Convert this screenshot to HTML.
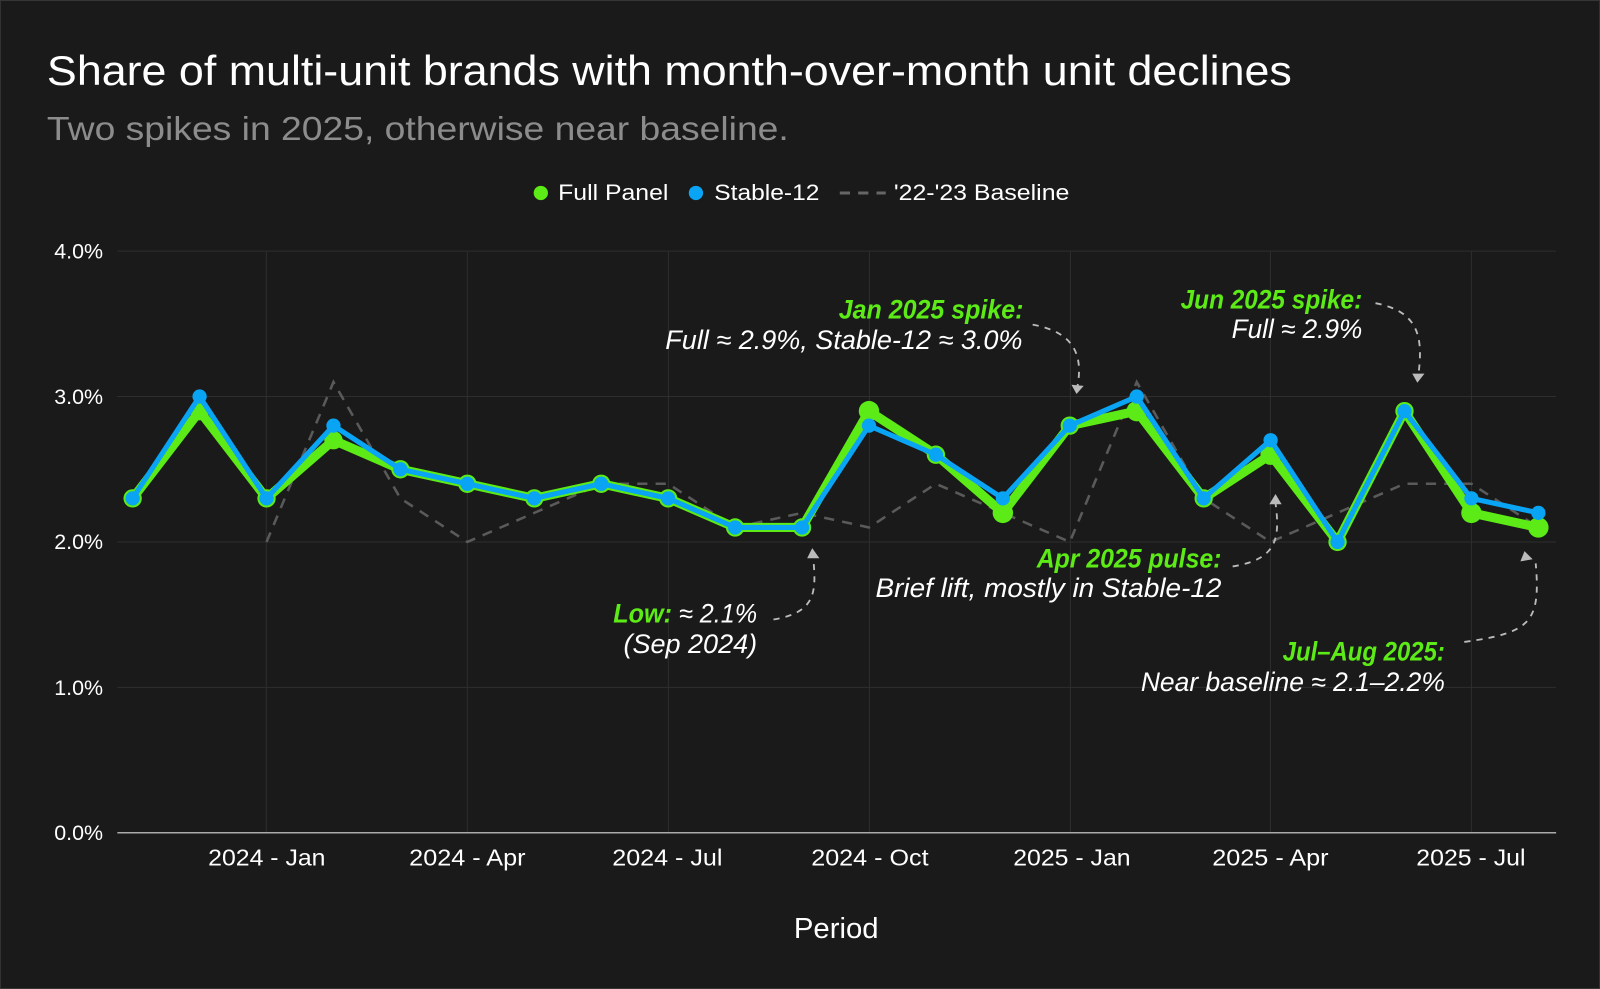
<!DOCTYPE html>
<html><head><meta charset="utf-8"><style>
html,body{margin:0;padding:0;background:#1a1a1a;}
svg{display:block;}
text{font-family:"Liberation Sans",sans-serif;}
.h{font-family:"DejaVu Sans Condensed","DejaVu Sans",sans-serif;font-style:italic;}
</style></head><body>
<svg width="1600" height="989" viewBox="0 0 1568 969" xmlns="http://www.w3.org/2000/svg">
<rect x="0" y="0" width="1568" height="969" fill="#1a1a1a" stroke="#3a3a3a" stroke-width="1.5"/>
<text x="46" y="83" font-size="41" fill="#ffffff" textLength="1220" lengthAdjust="spacingAndGlyphs">Share of multi-unit brands with month-over-month unit declines</text>
<text x="46" y="137" font-size="33" fill="#8c8c8c" textLength="727" lengthAdjust="spacingAndGlyphs">Two spikes in 2025, otherwise near baseline.</text>
<circle cx="530" cy="189" r="7" fill="#5ceb16"/>
<text x="547" y="196" font-size="22" fill="#fff" textLength="108" lengthAdjust="spacingAndGlyphs">Full Panel</text>
<circle cx="682" cy="189" r="7" fill="#0aa4f4"/>
<text x="700" y="196" font-size="22" fill="#fff" textLength="103" lengthAdjust="spacingAndGlyphs">Stable-12</text>
<line x1="823" y1="189" x2="868" y2="189" stroke="#666" stroke-width="3" stroke-dasharray="10,8"/>
<text x="876" y="196" font-size="22" fill="#fff" textLength="172" lengthAdjust="spacingAndGlyphs">'22-'23 Baseline</text>
<g stroke="#2e2e2e" stroke-width="1">
<line x1="115" y1="246" x2="1525" y2="246"/><line x1="115" y1="388.5" x2="1525" y2="388.5"/>
<line x1="115" y1="531" x2="1525" y2="531"/><line x1="115" y1="673.5" x2="1525" y2="673.5"/>
<line x1="261" y1="246" x2="261" y2="816"/><line x1="458" y1="246" x2="458" y2="816"/>
<line x1="655" y1="246" x2="655" y2="816"/><line x1="852" y1="246" x2="852" y2="816"/>
<line x1="1049" y1="246" x2="1049" y2="816"/><line x1="1245" y1="246" x2="1245" y2="816"/>
<line x1="1442" y1="246" x2="1442" y2="816"/>
</g>
<line x1="115" y1="816" x2="1525" y2="816" stroke="#aaa" stroke-width="1.5"/>
<g font-size="21" fill="#fff" text-anchor="end">
<text x="101" y="253">4.0%</text><text x="101" y="396">3.0%</text><text x="101" y="538">2.0%</text>
<text x="101" y="681">1.0%</text><text x="101" y="823">0.0%</text>
</g>
<g font-size="23" fill="#fff">
<text x="204" y="848" textLength="115" lengthAdjust="spacingAndGlyphs">2024 - Jan</text>
<text x="401" y="848" textLength="114" lengthAdjust="spacingAndGlyphs">2024 - Apr</text>
<text x="600" y="848" textLength="108" lengthAdjust="spacingAndGlyphs">2024 - Jul</text>
<text x="795" y="848" textLength="115" lengthAdjust="spacingAndGlyphs">2024 - Oct</text>
<text x="993" y="848" textLength="115" lengthAdjust="spacingAndGlyphs">2025 - Jan</text>
<text x="1188" y="848" textLength="114" lengthAdjust="spacingAndGlyphs">2025 - Apr</text>
<text x="1388" y="848" textLength="107" lengthAdjust="spacingAndGlyphs">2025 - Jul</text>
</g>
<text x="778" y="919" font-size="28" fill="#fff" textLength="83" lengthAdjust="spacingAndGlyphs">Period</text>
<polyline fill="none" stroke="#5a5a5a" stroke-width="2.5" stroke-dasharray="10,8" points="261.2,531 326.8,374.3 392.4,488.3 458,531 523.6,502.5 589.2,474 654.8,474 720.4,516.8 786,502.5 851.6,516.8 917.2,474 982.8,502.5 1048.4,531 1114,374.3 1179.6,488.3 1245.2,531 1310.8,502.5 1376.4,474 1442,474 1507.6,516.8"/>
<polyline fill="none" stroke="#5ceb16" stroke-width="9" stroke-linejoin="round" points="130,488.3 195.6,402.8 261.2,488.3 326.8,431.3 392.4,459.8 458,474 523.6,488.3 589.2,474 654.8,488.3 720.4,516.8 786,516.8 851.6,402.8 917.2,445.5 982.8,502.5 1048.4,417 1114,402.8 1179.6,488.3 1245.2,445.5 1310.8,531 1376.4,402.8 1442,502.5 1507.6,516.8"/>
<g fill="#5ceb16">
<circle cx="130" cy="488.3" r="9"/><circle cx="195.6" cy="402.8" r="9"/><circle cx="261.2" cy="488.3" r="9"/><circle cx="326.8" cy="431.3" r="9"/><circle cx="392.4" cy="459.8" r="9"/><circle cx="458" cy="474" r="9"/><circle cx="523.6" cy="488.3" r="9"/><circle cx="589.2" cy="474" r="9"/><circle cx="654.8" cy="488.3" r="9"/><circle cx="720.4" cy="516.8" r="9"/><circle cx="786" cy="516.8" r="9"/><circle cx="851.6" cy="402.8" r="10"/><circle cx="917.2" cy="445.5" r="9"/><circle cx="982.8" cy="502.5" r="10"/><circle cx="1048.4" cy="417" r="9"/><circle cx="1114" cy="402.8" r="10"/><circle cx="1179.6" cy="488.3" r="9"/><circle cx="1245.2" cy="445.5" r="10"/><circle cx="1310.8" cy="531" r="9"/><circle cx="1376.4" cy="402.8" r="9"/><circle cx="1442" cy="502.5" r="10"/><circle cx="1507.6" cy="516.8" r="10"/>
</g>
<polyline fill="none" stroke="#0aa4f4" stroke-width="5" stroke-linejoin="round" points="130,488.3 195.6,388.5 261.2,488.3 326.8,417 392.4,459.8 458,474 523.6,488.3 589.2,474 654.8,488.3 720.4,516.8 786,516.8 851.6,417 917.2,445.5 982.8,488.3 1048.4,417 1114,388.5 1179.6,488.3 1245.2,431.3 1310.8,531 1376.4,402.8 1442,488.3 1507.6,502.5"/>
<g fill="#0aa4f4">
<circle cx="130" cy="488.3" r="7"/><circle cx="195.6" cy="388.5" r="7"/><circle cx="261.2" cy="488.3" r="7"/><circle cx="326.8" cy="417" r="7"/><circle cx="392.4" cy="459.8" r="7"/><circle cx="458" cy="474" r="7"/><circle cx="523.6" cy="488.3" r="7"/><circle cx="589.2" cy="474" r="7"/><circle cx="654.8" cy="488.3" r="7"/><circle cx="720.4" cy="516.8" r="7"/><circle cx="786" cy="516.8" r="7"/><circle cx="851.6" cy="417" r="7"/><circle cx="917.2" cy="445.5" r="7"/><circle cx="982.8" cy="488.3" r="7"/><circle cx="1048.4" cy="417" r="7"/><circle cx="1114" cy="388.5" r="7"/><circle cx="1179.6" cy="488.3" r="7"/><circle cx="1245.2" cy="431.3" r="7"/><circle cx="1310.8" cy="531" r="7"/><circle cx="1376.4" cy="402.8" r="7"/><circle cx="1442" cy="488.3" r="7"/><circle cx="1507.6" cy="502.5" r="7"/>
</g>
<g fill="none" stroke="#bbb" stroke-width="1.8" stroke-dasharray="6,6">
<path d="M1012,318 C1050,325 1062,345 1056,378"/>
<path d="M1348,297 C1390,305 1395,330 1390,367"/>
<path d="M758,607 C800,600 800,580 797,547"/>
<path d="M1208,555 C1250,548 1255,530 1250,493"/>
<path d="M1435,629 C1500,620 1510,610 1505,552"/>
</g>
<g fill="#bbb">
<polygon points="1050,377 1062,378 1055,386"/>
<polygon points="1384,366 1396,366 1389,375"/>
<polygon points="791,547 803,547 796,537"/>
<polygon points="1244,494 1256,494 1250,484"/>
<polygon points="1490,550 1502,548 1494,540"/>
</g>
<g class="h" font-size="26">
<text x="822" y="312" fill="#5ceb16" font-weight="bold" textLength="181" lengthAdjust="spacingAndGlyphs">Jan 2025 spike:</text>
<text x="652" y="342" fill="#fff" textLength="350" lengthAdjust="spacingAndGlyphs">Full ≈ 2.9%, Stable-12 ≈ 3.0%</text>
<text x="1157" y="302" fill="#5ceb16" font-weight="bold" textLength="178" lengthAdjust="spacingAndGlyphs">Jun 2025 spike:</text>
<text x="1207" y="331" fill="#fff" textLength="128" lengthAdjust="spacingAndGlyphs">Full ≈ 2.9%</text>
<text x="1016" y="556" fill="#5ceb16" font-weight="bold" textLength="181" lengthAdjust="spacingAndGlyphs">Apr 2025 pulse:</text>
<text x="858" y="585" fill="#fff" textLength="339" lengthAdjust="spacingAndGlyphs">Brief lift, mostly in Stable-12</text>
<text x="1257" y="647" fill="#5ceb16" font-weight="bold" textLength="159" lengthAdjust="spacingAndGlyphs">Jul–Aug 2025:</text>
<text x="1118" y="677" fill="#fff" textLength="298" lengthAdjust="spacingAndGlyphs">Near baseline ≈ 2.1–2.2%</text>
<text x="601" y="610" fill="#fff" textLength="141" lengthAdjust="spacingAndGlyphs"><tspan fill="#5ceb16" font-weight="bold">Low:</tspan> ≈ 2.1%</text>
<text x="611" y="640" fill="#fff" textLength="131" lengthAdjust="spacingAndGlyphs">(Sep 2024)</text>
</g>
</svg>
</body></html>
